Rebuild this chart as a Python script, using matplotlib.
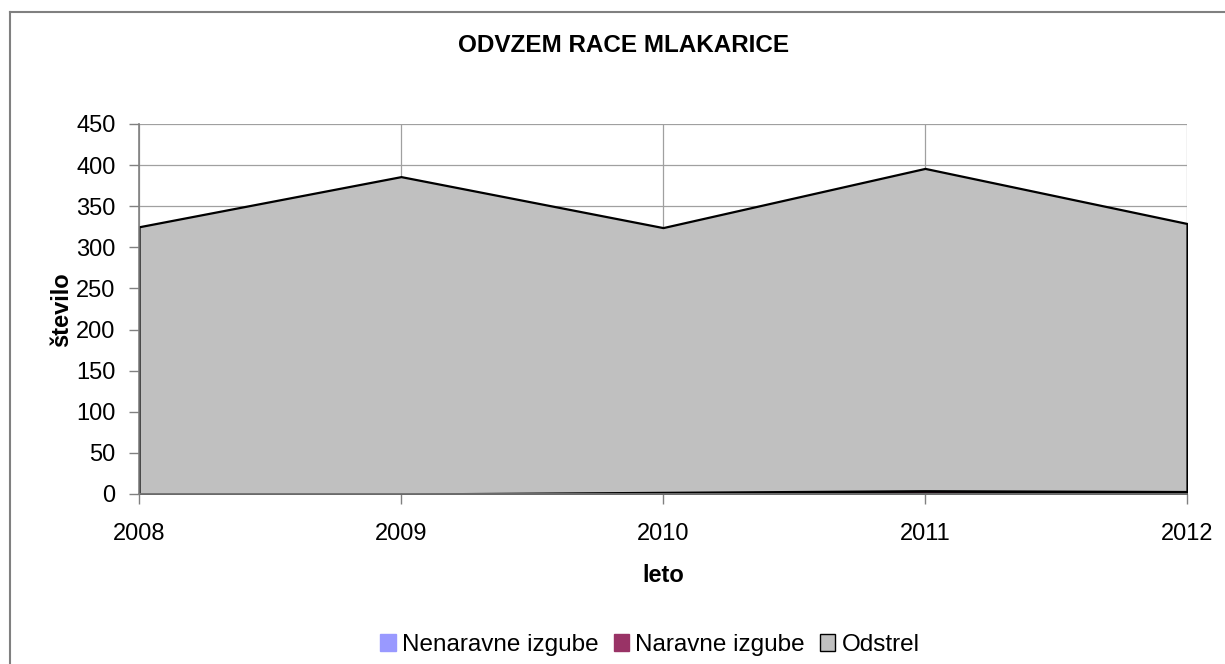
import matplotlib
matplotlib.use('Agg')
import matplotlib.pyplot as plt
from matplotlib.lines import Line2D
from matplotlib.patches import Patch

plt.rcParams['font.family'] = ['Liberation Sans', 'DejaVu Sans']

# data
years = [2008, 2009, 2010, 2011, 2012]
nenaravne = [0, 0, 0, 1, 1]
naravne = [0, 0, 2, 3, 2]
odstrel = [325, 386, 322, 392, 326]

labels = ['Nenaravne izgube', 'Naravne izgube', 'Odstrel']
colors = ['#9999FF', '#993366', '#C0C0C0']

fig = plt.figure(figsize=(12.25, 6.64), dpi=100)
ax = fig.add_axes([139/1225, 1 - 494/664, (1187-139)/1225, (494-124)/664])

ax.stackplot(years, nenaravne, naravne, odstrel, colors=colors,
             edgecolor='black', linewidth=1.6, zorder=3)

ax.set_xlim(2008, 2012)
ax.set_ylim(0, 450)
ax.set_xticks(years)
ax.set_yticks(range(0, 451, 50))
ax.grid(True, color='#a0a0a0', linewidth=0.9, zorder=0)
ax.set_axisbelow(True)

for s in ['top', 'right']:
    ax.spines[s].set_visible(False)
for s in ['left', 'bottom']:
    ax.spines[s].set_color('#808080')
    ax.spines[s].set_linewidth(1.2)
    ax.spines[s].set_zorder(4)

ax.tick_params(axis='both', colors='#808080', length=7, width=1, labelsize=17,
               labelcolor='black', direction='out')
ax.tick_params(axis='x', pad=14)
ax.tick_params(axis='y', pad=10)

fig.text(624/1225, 1 - 46/664, 'ODVZEM RACE MLAKARICE', ha='center', va='center',
         fontsize=17.5, fontweight='bold')
fig.text(62/1225, 1 - 310/664, 'število', ha='center', va='center', rotation=90,
         fontsize=17, fontweight='bold')
fig.text(663/1225, 1 - 576/664, 'leto', ha='center', va='center',
         fontsize=17, fontweight='bold')

handles = [Patch(facecolor=colors[0], edgecolor=colors[0]),
           Patch(facecolor=colors[1], edgecolor=colors[1]),
           Patch(facecolor=colors[2], edgecolor='black')]
fig.legend(handles, labels, loc='center', bbox_to_anchor=(650/1225, 1 - 645/664),
           ncol=3, frameon=False, fontsize=17.5, handlelength=0.65, handleheight=0.65,
           handletextpad=0.25, columnspacing=0.6, borderaxespad=0)

# outer chart border (only left and top edges are in frame)
fig.add_artist(Line2D([9.5/1225, 9.5/1225], [0, 1 - 11.5/664], color='#808080', lw=1.5))
fig.add_artist(Line2D([9.5/1225, 1], [1 - 11.5/664, 1 - 11.5/664], color='#808080', lw=1.5))

fig.savefig('out.png', dpi=100)
